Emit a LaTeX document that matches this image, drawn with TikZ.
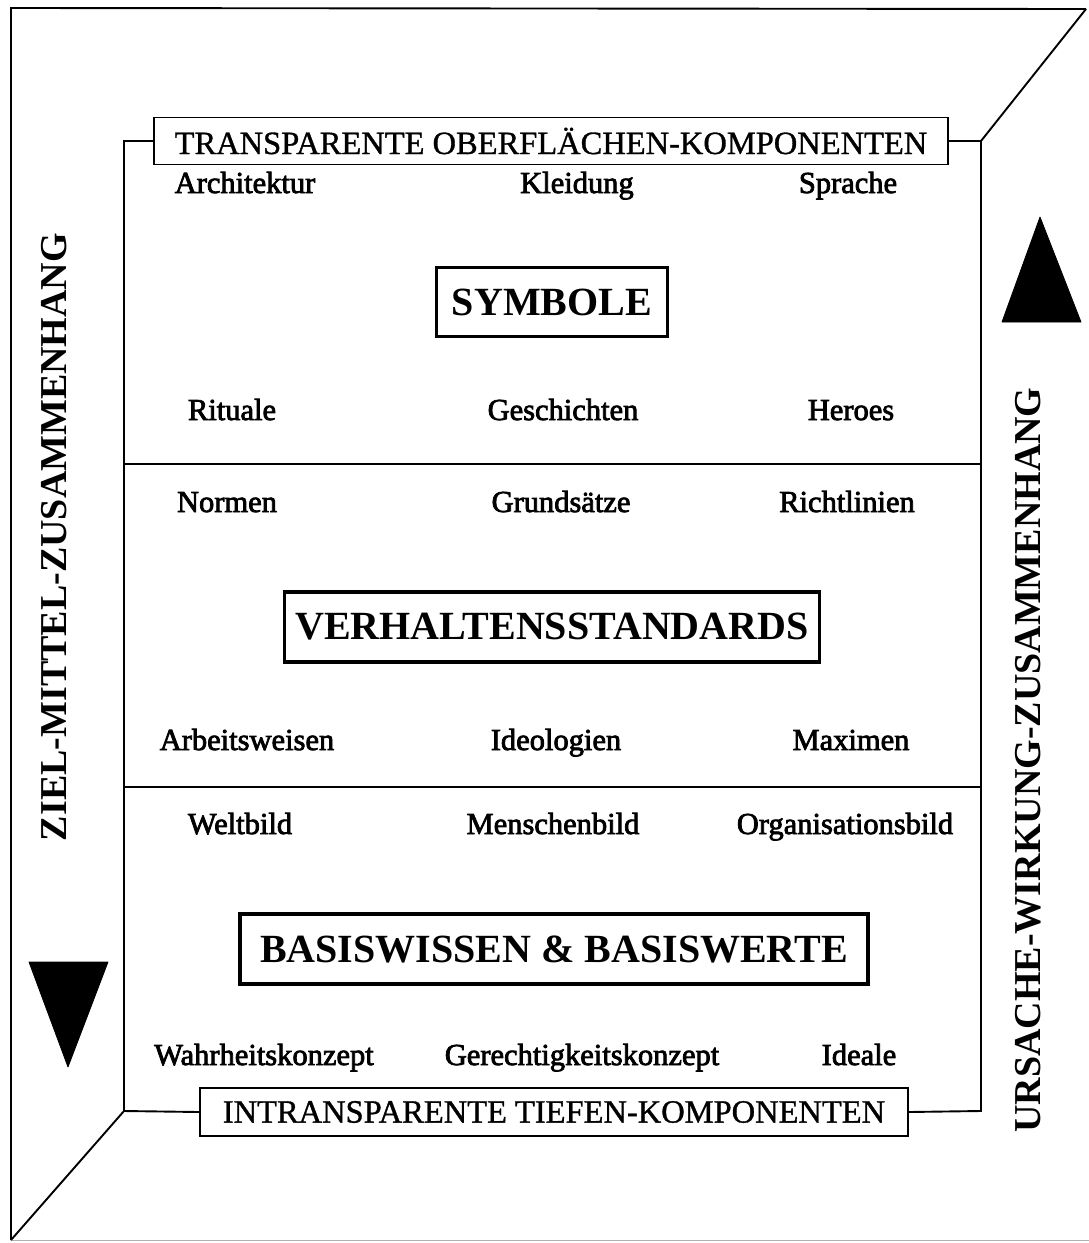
\documentclass[tikz,border=0pt]{standalone}
\usepackage{fontspec}
\setmainfont{Liberation Serif}
\newfontfamily\itemfont[FakeBold=2.5]{Liberation Serif}
\newfontfamily\capfont[FakeBold=1]{Liberation Serif}
\begin{document}
\begin{tikzpicture}[x=1pt,y=-1pt,
  frame/.style={line width=1.9pt, line join=miter},
  layerbox/.style={draw, line width=1.9pt, inner sep=0pt, font=\capfont\fontsize{32.5}{36}\selectfont},
  titlebox/.style={draw, line width=3.4pt, inner sep=0pt, font=\fontsize{40}{44}\selectfont\bfseries},
  item/.style={anchor=base, inner sep=0pt, font=\itemfont\fontsize{30.5}{34}\selectfont},
  sidelabel/.style={rotate=90, inner sep=0pt, font=\fontsize{38}{42}\selectfont\bfseries},
  tri/.style={fill=black, draw=black, line width=0.8pt, line join=round}]
\useasboundingbox (0,0) rectangle (1089,1243);

% outer frame corners
\coordinate (otl) at (11,8);
\coordinate (otr) at (1086,9);
\coordinate (obl) at (11,1240);
\coordinate (obr) at (1089,1240);
% inner frame corners
\coordinate (itl) at (124,141);
\coordinate (itr) at (981,141);
\coordinate (ibl) at (124,1111);
\coordinate (ibr) at (981,1111);
% dividers
\coordinate (d1l) at (124,464);
\coordinate (d1r) at (981,464);
\coordinate (d2l) at (124,787);
\coordinate (d2r) at (981,787);

% layer boxes
\node[layerbox, minimum width=794pt, minimum height=47pt] (tb) at (551,141)
  {TRANSPARENTE OBERFLÄCHEN-KOMPONENTEN};
\node[layerbox, minimum width=708pt, minimum height=48pt] (bb) at (554,1112)
  {INTRANSPARENTE TIEFEN-KOMPONENTEN};

% frames
\draw[frame] (obl) -- (otl) -- (otr);
\draw[line width=0.8pt, black!30] (obl) -- (obr);
\draw[frame] (itr) -- (otr);
\draw[frame] (ibl) -- (obl);
\draw[frame] (tb.west) -- (itl) -- (ibl) -- (bb.west);
\draw[frame] (tb.east) -- (itr) -- (ibr) -- (bb.east);
\draw[frame] (d1l) -- (d1r);
\draw[frame] (d2l) -- (d2r);

% title boxes
\node[titlebox, minimum width=231pt, minimum height=69pt] (sym) at (552,302) {SYMBOLE};
\node[titlebox, minimum width=535pt, minimum height=70pt] (ver) at (552,627) {VERHALTENSSTANDARDS};
\node[titlebox, minimum width=628pt, minimum height=70pt] (bas) at (554,949) {BASISWISSEN \& BASISWERTE};

% items
\node[item] (i11) at (245,193) {Architektur};
\node[item] (i12) at (577,193) {Kleidung};
\node[item] (i13) at (848,193) {Sprache};
\node[item] (i21) at (232,420) {Rituale};
\node[item] (i22) at (563,420) {Geschichten};
\node[item] (i23) at (851,420) {Heroes};
\node[item] (i31) at (227,512) {Normen};
\node[item] (i32) at (561,512) {Grundsätze};
\node[item] (i33) at (847,512) {Richtlinien};
\node[item] (i41) at (247,750) {Arbeitsweisen};
\node[item] (i42) at (556,750) {Ideologien};
\node[item] (i43) at (851,750) {Maximen};
\node[item] (i51) at (240,834) {Weltbild};
\node[item] (i52) at (553,834) {Menschenbild};
\node[item] (i53) at (845,834) {Organisationsbild};
\node[item] (i61) at (264,1065) {Wahrheitskonzept};
\node[item] (i62) at (582,1065) {Gerechtigkeitskonzept};
\node[item] (i63) at (859,1065) {Ideale};

% side labels
\node[sidelabel] (ziel) at (54,537) {ZIEL-MITTEL-ZUSAMMENHANG};
\node[sidelabel] (ursache) at (1028,760) {URSACHE-WIRKUNG-ZUSAMMENHANG};

% triangles
\draw[tri] (29,962) -- (108,962) -- (68,1067) -- cycle;
\draw[tri] (1040,217) -- (1081,322) -- (1002,322) -- cycle;
\end{tikzpicture}
\end{document}
